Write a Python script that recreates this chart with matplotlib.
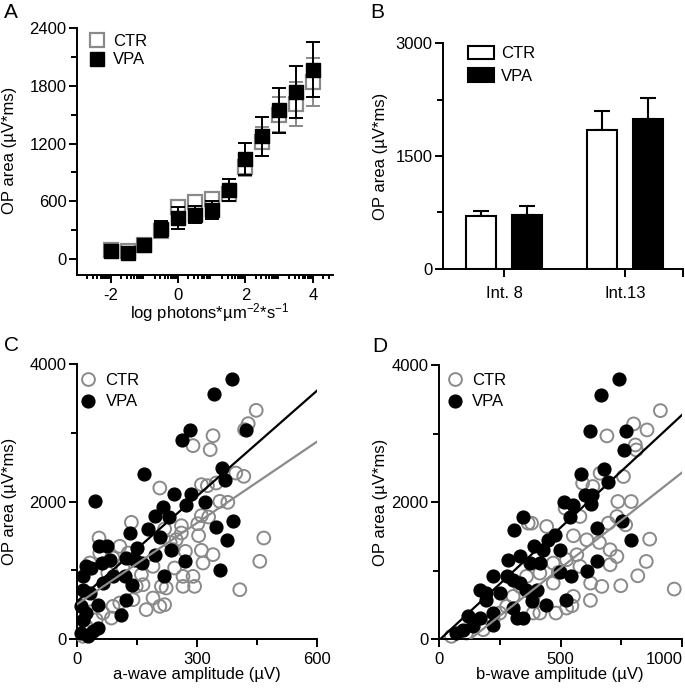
import matplotlib.pyplot as plt
import numpy as np
import matplotlib.transforms as mtransforms
from matplotlib.lines import Line2D
from matplotlib.patches import Patch

plt.rcParams['font.family'] = ['Liberation Sans', 'DejaVu Sans']
plt.rcParams['mathtext.fontset'] = 'custom'
plt.rcParams['mathtext.rm'] = 'Liberation Sans'
plt.rcParams['mathtext.it'] = 'Liberation Sans:italic'
plt.rcParams['axes.unicode_minus'] = False
plt.rcParams['font.size'] = 12

GREY = '#8a8a8a'
W, H = 685, 692

# ---- A: OP area vs flash intensity
log_int = [-2, -1.5, -1, -0.5, 0, 0.5, 1, 1.5, 2, 2.5, 3, 3.5, 4]
ctr_mean = [90, 80, 150, 290, 540, 590, 620, 680, 960, 1220, 1500, 1610, 1840]
ctr_err = [20, 20, 25, 60, 60, 60, 60, 80, 100, 150, 180, 230, 250]
vpa_mean = [80, 62, 142, 312, 426, 460, 512, 720, 1039, 1274, 1545, 1732, 1967]
vpa_err = [20, 20, 25, 80, 110, 90, 95, 115, 166, 200, 232, 270, 284]

# ---- B: two intensities
groups = ['Int. 8', 'Int.13']
ctr_bar = [699, 1850]
ctr_bar_err = [75, 250]
vpa_bar = [717, 1991]
vpa_bar_err = [115, 280]

# ---- C: OP area vs a-wave
c_vpa_x = [387, 342, 282, 423, 263, 167, 44, 363, 371, 242, 286, 319, 272, 215, 196, 229, 390,
           348, 132, 178, 207, 375, 150, 54, 75, 236, 122, 269, 144, 194, 163, 357, 218, 82, 63,
           23, 36, 90, 119, 138, 123, 65, 52, 111, 52, 15, 15, 11, 15, 11, 32, 23, 40, 27]
c_vpa_y = [3781, 3568, 3045, 3045, 2889, 2405, 2002, 2487, 2317, 2114, 2114, 1988, 1954, 1920,
           1784, 1770, 1716, 1629, 1542, 1600, 1484, 1445, 1328, 1357, 1348, 1299, 1178, 1130,
           1144, 1217, 1105, 999, 911, 1154, 1105, 1057, 1033, 911, 911, 790, 562, 814, 499, 354,
           160, 911, 717, 475, 281, 87, 669, 378, 112, 39]
c_ctr_x = [448, 428, 419, 340, 333, 290, 207, 311, 326, 348, 397, 417, 357, 377, 311, 329, 302,
           261, 136, 219, 248, 233, 467, 311, 340, 271, 457, 315, 55, 90, 115, 161, 190, 244, 265,
           290, 407, 265, 294, 211, 223, 173, 207, 219, 148, 165, 140, 107, 86, 65, 48, 77, 57,
           107, 128, 32, 27, 23, 15, 240, 261, 90, 190, 304]
c_ctr_y = [3326, 3132, 3045, 2957, 2754, 2812, 2196, 2245, 2230, 2269, 2414, 2366, 2002, 1988,
           1794, 1774, 1677, 1648, 1697, 1600, 1445, 1406, 1469, 1290, 1227, 1275, 1130, 1105,
           1469, 1178, 1033, 936, 1057, 1033, 911, 911, 717, 766, 766, 766, 742, 427, 475, 499,
           766, 790, 572, 524, 305, 378, 281, 960, 1251, 1348, 1251, 1105, 572, 184, 39, 1299,
           1542, 475, 596, 1503]
c_fit_vpa = [5.11, 546]
c_fit_ctr = [3.94, 506]

# ---- D: OP area vs b-wave
d_vpa_x = [739, 666, 622, 770, 762, 677, 585, 697, 601, 631, 624, 514, 553, 539, 347, 752, 308,
           477, 450, 652, 790, 391, 429, 498, 285, 333, 374, 415, 649, 608, 498, 542, 223, 278,
           305, 333, 168, 195, 250, 360, 402, 381, 440, 523, 195, 305, 319, 347, 120, 168, 223,
           140, 72, 99, 223]
d_vpa_y = [3791, 3562, 3042, 3042, 2760, 2479, 2406, 2299, 2104, 2104, 1973, 1993, 1958, 1788,
           1788, 1716, 1594, 1521, 1448, 1618, 1448, 1351, 1303, 1303, 1157, 1205, 1108, 1108,
           1132, 987, 972, 914, 914, 914, 865, 816, 719, 671, 671, 719, 719, 549, 501, 573, 573,
           452, 306, 306, 330, 306, 379, 185, 87, 136, 209]
d_ctr_x = [911, 801, 856, 808, 812, 691, 759, 663, 591, 633, 736, 791, 732, 768, 697, 867, 580,
           519, 367, 553, 608, 660, 704, 732, 704, 853, 818, 748, 670, 624, 968, 623, 553, 525,
           547, 481, 567, 580, 491, 470, 525, 415, 470, 360, 333, 388, 415, 388, 305, 278, 250,
           223, 182, 140, 113, 51, 443, 381]
d_ctr_y = [3334, 3140, 3052, 2833, 2760, 2965, 2372, 2420, 2274, 2226, 2007, 2007, 1788, 1667,
           1691, 1458, 1788, 1910, 1691, 1507, 1448, 1409, 1303, 1205, 1084, 1132, 923, 778, 768,
           816, 729, 564, 622, 452, 486, 379, 1230, 1060, 972, 1108, 1157, 962, 816, 914, 768,
           622, 379, 379, 622, 476, 379, 282, 136, 209, 87, 39, 1643, 1691]
d_fit_vpa = [3.29, -19]
d_fit_ctr = [2.79, -360]


def px_axes(fig, l, t, r, b):
    return fig.add_axes([l / W, 1 - b / H, (r - l) / W, (b - t) / H])


def style(ax):
    for s in ['top', 'right']:
        ax.spines[s].set_visible(False)
    for s in ['left', 'bottom']:
        ax.spines[s].set_linewidth(1.4)
    ax.tick_params(which='major', direction='out', length=6, width=1.4, pad=1.5, labelsize=12)
    ax.tick_params(which='minor', direction='out', length=4, width=1.4)


def fx(x):
    return x / W


def fy(y):
    return 1 - y / H


fig = plt.figure(figsize=(W / 100, H / 100), dpi=100)

# ================= A
axA = px_axes(fig, 77, 28, 333, 275)
style(axA)
axA.errorbar(log_int, ctr_mean, yerr=ctr_err, fmt='none', ecolor=GREY, elinewidth=1.4,
             capsize=5, capthick=1.4, zorder=2)
axA.plot(log_int, ctr_mean, 's', ms=9.5, mfc='white', mec=GREY, mew=1.6, ls='none', zorder=3)
axA.errorbar(log_int, vpa_mean, yerr=vpa_err, fmt='none', ecolor='black', elinewidth=1.4,
             capsize=5, capthick=1.4, zorder=4)
axA.plot(log_int, vpa_mean, 's', ms=9.5, mfc='black', mec='black', ls='none', zorder=5)
axA.set_xlim(-3, 4.6)
axA.set_ylim(-166, 2400)
axA.set_xticks([-2, 0, 2, 4])
minA = [n + np.log10(k) for n in range(-3, 5) for k in range(2, 10)]
axA.set_xticks([m for m in minA if m <= 4.6], minor=True)
axA.set_yticks([0, 600, 1200, 1800, 2400])
axA.set_yticks([300, 900, 1500, 2100], minor=True)
axA.tick_params(axis='x', which='minor', length=3)
axA.tick_params(axis='x', which='major', pad=3)
axA.legend(handles=[Line2D([], [], marker='s', ls='none', ms=9.5, mfc='white', mec=GREY, mew=1.6),
                    Line2D([], [], marker='s', ls='none', ms=9.5, mfc='black', mec='black')],
           labels=['CTR', 'VPA'], loc='upper left', frameon=False, fontsize=12,
           bbox_to_anchor=(fx(88.7), fy(34)), bbox_transform=fig.transFigure,
           borderpad=0, borderaxespad=0, handlelength=1.0, handletextpad=0.45,
           labelspacing=0.2)
fig.text(fx(10), fy(150), 'OP area (µV*ms)', rotation=90, ha='center', va='center', fontsize=12)
fig.text(fx(210), fy(313), r'log photons*µm$^{-2}$*s$^{-1}$', ha='center', va='center', fontsize=12)

# ================= B
axB = px_axes(fig, 443, 43, 683, 269)
style(axB)
xg = np.arange(len(groups))
bw = 0.25
off = 0.19
axB.bar(xg - off, ctr_bar, bw, color='white', edgecolor='black', linewidth=1.5, zorder=3)
axB.bar(xg + off, vpa_bar, bw, color='black', edgecolor='black', linewidth=1.5, zorder=3)
axB.errorbar(xg - off, ctr_bar, yerr=[np.zeros(2), ctr_bar_err], fmt='none', ecolor='black',
             elinewidth=1.5, capsize=6, capthick=1.5, zorder=2)
axB.errorbar(xg + off, vpa_bar, yerr=[np.zeros(2), vpa_bar_err], fmt='none', ecolor='black',
             elinewidth=1.5, capsize=6, capthick=1.5, zorder=2)
axB.set_xlim(-0.504, 1.479)
axB.set_ylim(0, 3000)
axB.set_xticks(xg)
axB.set_xticklabels(groups)
axB.set_xticks([1.479], minor=True)
axB.tick_params(axis='x', which='minor', length=6)
axB.set_yticks([0, 1500, 3000])
axB.set_yticks([750, 2250], minor=True)
axB.tick_params(axis='x', which='major', pad=6)
axB.legend(handles=[Patch(facecolor='white', edgecolor='black', linewidth=1.5),
                    Patch(facecolor='black', edgecolor='black', linewidth=1.5)],
           labels=['CTR', 'VPA'], loc='upper left', frameon=False, fontsize=12,
           bbox_to_anchor=(fx(468), fy(46)), bbox_transform=fig.transFigure,
           borderpad=0, borderaxespad=0, handlelength=1.56, handleheight=0.85,
           handletextpad=0.42, labelspacing=0.42)
fig.text(fx(380), fy(156), 'OP area (µV*ms)', rotation=90, ha='center', va='center', fontsize=12)


# ================= C & D
def scatter_panel(ax, cx, cy, vx, vy, fit_c, fit_v, xmax, xmaj, xmin):
    style(ax)
    ax.scatter(cx, cy, s=85, facecolors='none', edgecolors=GREY, linewidths=1.4, zorder=2,
               clip_on=False)
    ax.scatter(vx, vy, s=85, facecolors='black', edgecolors='black', zorder=3, clip_on=False)
    xs = np.array([0, xmax])
    ax.plot(xs, fit_c[0] * xs + fit_c[1], color=GREY, lw=1.6, zorder=4)
    ax.plot(xs, fit_v[0] * xs + fit_v[1], color='black', lw=1.6, zorder=5)
    ax.set_xlim(0, xmax)
    ax.set_ylim(0, 4000)
    ax.set_xticks(xmaj)
    ax.set_xticks(xmin, minor=True)
    ax.set_yticks([0, 2000, 4000])
    ax.set_yticks([1000, 3000], minor=True)
    ax.tick_params(axis='x', which='major', pad=3.5)


axC = px_axes(fig, 77, 364, 317, 639)
scatter_panel(axC, c_ctr_x, c_ctr_y, c_vpa_x, c_vpa_y, c_fit_ctr, c_fit_vpa, 600,
              [0, 300, 600], [150, 450])
axD = px_axes(fig, 439, 365, 682, 639)
scatter_panel(axD, d_ctr_x, d_ctr_y, d_vpa_x, d_vpa_y, d_fit_ctr, d_fit_vpa, 1000,
              [0, 500, 1000], [250, 750])
# last D tick label pulled left so it stays inside the figure
lastlab = axD.get_xticklabels()[-1]
lastlab.set_transform(lastlab.get_transform() +
                      mtransforms.ScaledTranslation(-18 / 100, 0, fig.dpi_scale_trans))

for ax, lx in [(axC, 79.7), (axD, 446.5)]:
    ax.legend(handles=[Line2D([], [], marker='o', ls='none', ms=9.2, mfc='none', mec=GREY, mew=1.4),
                       Line2D([], [], marker='o', ls='none', ms=9.2, mfc='black', mec='black')],
              labels=['CTR', 'VPA'], loc='upper left', frameon=False, fontsize=12,
              bbox_to_anchor=(fx(lx), fy(373)), bbox_transform=fig.transFigure,
              borderpad=0, borderaxespad=0, handlelength=1.0, handletextpad=0.55,
              labelspacing=0.38)

fig.text(fx(10), fy(501), 'OP area (µV*ms)', rotation=90, ha='center', va='center', fontsize=12)
fig.text(fx(380), fy(502), 'OP area (µV*ms)', rotation=90, ha='center', va='center', fontsize=12)
fig.text(fx(197), fy(675), 'a-wave amplitude (µV)', ha='center', va='center', fontsize=12)
fig.text(fx(560), fy(675), 'b-wave amplitude (µV)', ha='center', va='center', fontsize=12)

# panel letters
for lbl, x, y in [('A', 4, 12), ('B', 370, 12), ('C', 4, 345), ('D', 372, 347)]:
    fig.text(fx(x), fy(y), lbl, ha='left', va='center', fontsize=15)

fig.savefig('out.png', dpi=100)
